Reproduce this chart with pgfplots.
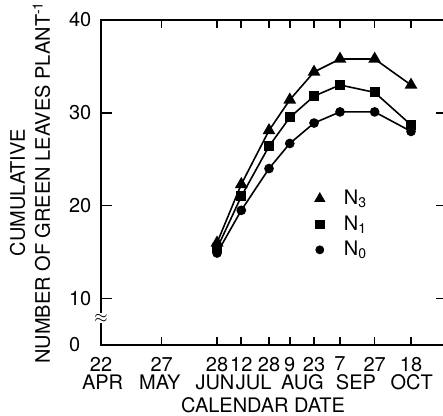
\documentclass[border=0pt]{standalone}
\usepackage{pgfplots}
\pgfplotsset{compat=1.18}
\usepackage{fontspec}
\setmainfont{TeX Gyre Heros}
\newcommand{\lbl}{\fontsize{10}{12}\selectfont}
\tikzset{month/.style={anchor=base, yshift=-22.5pt, font=\lbl, inner sep=0pt}}
\begin{document}
\begin{tikzpicture}
\begin{axis}[
  scale only axis,
  clip=false,
  width=173.2pt, height=162.5pt,
  % x in day of year (22 Apr = 112)
  xmin=112, xmax=312,
  ymin=5, ymax=40,
  axis line style={line width=0.9pt},
  tick align=inside,
  every tick/.style={line width=0.8pt, black},
  xtick={112,147,179,193,209,221,235,250,270,291},
  xticklabels={22,27,28,12,28,9,23,7,27,18},
  ytick={5,10,20,30,40},
  yticklabels={0\hphantom{0},10,20,30,40},
  xtick style={/pgfplots/major tick length=4pt},
  ytick style={/pgfplots/major tick length=5.5pt},
  /pgf/number format/assume math mode=true,
  tick label style={font=\lbl},
  xticklabel style={yshift=-2.5pt},
  yticklabel style={xshift=-1.3pt},
  xlabel={CALENDAR DATE},
  xlabel style={at={(axis description cs:0.4677,0)}, anchor=base, yshift=-33.8pt, inner sep=0pt, font=\lbl},
  ylabel={CUMULATIVE\hspace*{10pt}\\NUMBER OF GREEN LEAVES PLANT\textsuperscript{-1}},
  ylabel style={at={(axis description cs:-0.205,0.5)}, anchor=center, align=center, font=\fontsize{10}{12.5}\selectfont},
  legend style={draw=none, fill=none, at={(axis cs:235.2,18.0)}, anchor=west,
    font=\lbl, row sep=2pt, nodes={inner sep=1pt}, inner sep=0pt,
    /tikz/every odd column/.style={column sep=8.5pt}},
  legend cell align=left,
  legend image code/.code={\draw[mark repeat=2,mark phase=2] plot coordinates {(0cm,0cm) (0.15cm,0cm) (0.3cm,0cm)};},
]
% N0
\addplot[black, line width=0.8pt, mark=*, mark size=2pt, forget plot] coordinates {
  (179,14.9) (193,19.5) (209,24.0) (221,26.7) (235,28.9) (250,30.1) (270,30.1) (291,28.0)};
% N1
\addplot[black, line width=0.8pt, mark=square*, mark size=2.1pt, forget plot] coordinates {
  (179,15.4) (193,21.0) (209,26.4) (221,29.5) (235,31.8) (250,33.0) (270,32.2) (291,28.7)};
% N3
\addplot[black, line width=0.8pt, mark=triangle*, mark size=2.9pt, forget plot] coordinates {
  (179,16.0) (193,22.3) (209,28.1) (221,31.4) (235,34.4) (250,35.8) (270,35.8) (291,33.0)};

\addlegendimage{only marks, black, mark=triangle*, mark size=2.9pt}
\addlegendentry{N\textsubscript{3}}
\addlegendimage{only marks, black, mark=square*, mark size=2.1pt}
\addlegendentry{N\textsubscript{1}}
\addlegendimage{only marks, black, mark=*, mark size=2pt}
\addlegendentry{N\textsubscript{0}}

% month names under the day numbers
\node[month] at (axis cs:112.9,5) {APR};
\node[month] at (axis cs:146,5) {MAY};
\node[month] at (axis cs:177.8,5) {JUN};
\node[month] at (axis cs:200.2,5) {JUL};
\node[month] at (axis cs:228.3,5) {AUG};
\node[month] at (axis cs:259.2,5) {SEP};
\node[month] at (axis cs:291.4,5) {OCT};

% axis break mark
\node[fill=white, inner sep=0.4pt, font=\fontsize{8}{8}\selectfont] at (axis cs:112,7.9) {$\approx$};

\coordinate (bbSW) at (axis description cs:-0.2916,-0.2185);
\coordinate (bbNE) at (axis description cs:0.9873,1.0615);
\end{axis}
\pgfresetboundingbox
\path[use as bounding box] (bbSW) rectangle (bbNE);
\end{tikzpicture}
\end{document}
